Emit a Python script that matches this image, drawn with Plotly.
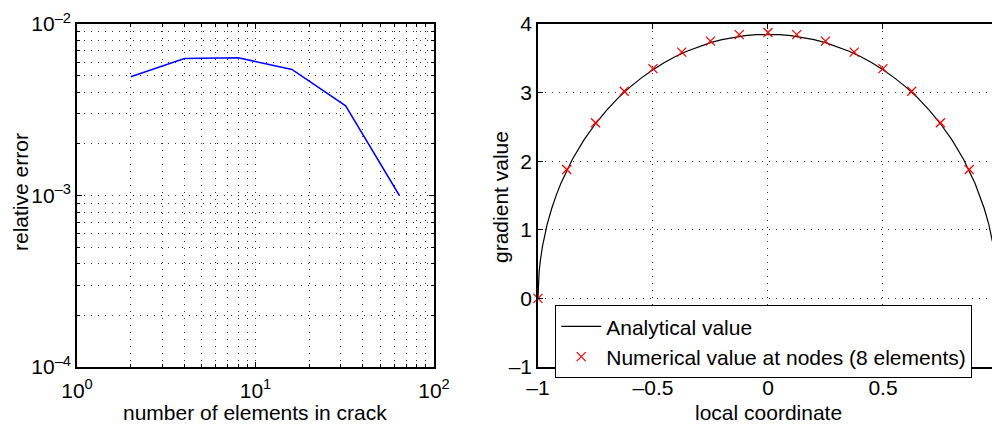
import plotly.graph_objects as go

# Convergence study: relative error vs. number of crack elements
n_elements = [2, 4, 8, 16, 32, 64]
rel_error = [4.92e-3, 6.30e-3, 6.36e-3, 5.43e-3, 3.33e-3, 1.0e-3]

# Gradient along the crack: analytical curve samples
curve_x = [-1.0, -0.999, -0.995, -0.99, -0.98, -0.96, -0.94, -0.92, -0.9, -0.85,
           -0.8, -0.75, -0.7, -0.65, -0.6, -0.55, -0.5, -0.45, -0.4, -0.35, -0.3,
           -0.25, -0.2, -0.15, -0.1, -0.05, 0.0, 0.05, 0.1, 0.15, 0.2, 0.25, 0.3,
           0.35, 0.4, 0.45, 0.5, 0.55, 0.6, 0.65, 0.7, 0.75, 0.8, 0.85, 0.9, 0.92,
           0.94, 0.96, 0.98, 0.99, 0.995, 0.999, 1.0]
curve_y = [0.0, 0.172, 0.385, 0.543, 0.766, 1.078, 1.314, 1.509, 1.678, 2.028,
           2.310, 2.546, 2.749, 2.926, 3.080, 3.215, 3.334, 3.438, 3.529, 3.607,
           3.673, 3.728, 3.772, 3.806, 3.831, 3.845, 3.850, 3.845, 3.831, 3.806,
           3.772, 3.728, 3.673, 3.607, 3.529, 3.438, 3.334, 3.215, 3.080, 2.926,
           2.749, 2.546, 2.310, 2.028, 1.678, 1.509, 1.314, 1.078, 0.766, 0.543,
           0.385, 0.172, 0.0]

# Numerical gradient at the nodes (8 quadratic elements)
node_x = [-1.0, -0.875, -0.75, -0.625, -0.5, -0.375, -0.25, -0.125, 0.0,
          0.125, 0.25, 0.375, 0.5, 0.625, 0.75, 0.875, 1.0]
node_y = [0.0, 1.88, 2.56, 3.02, 3.35, 3.59, 3.75, 3.845, 3.875,
          3.845, 3.75, 3.59, 3.35, 3.02, 2.56, 1.88, 0.0]

FONT = "Liberation Sans, Arial, Helvetica, sans-serif"
FS = 21
GRID = "rgba(0,0,0,0.8)"
DASH = "1px,6px"

fig = go.Figure()

fig.add_trace(go.Scatter(
    x=n_elements, y=rel_error, mode="lines",
    line=dict(color="#0000ff", width=1.5),
    xaxis="x", yaxis="y", showlegend=False,
))

fig.add_trace(go.Scatter(
    x=curve_x, y=curve_y, mode="lines", name="Analytical value",
    line=dict(color="black", width=1.2),
    xaxis="x2", yaxis="y2",
))
fig.add_trace(go.Scatter(
    x=node_x, y=node_y, mode="markers",
    name="Numerical value at nodes (8 elements)",
    marker=dict(symbol="x-thin", size=9, line=dict(color="#ff0000", width=1.3)),
    cliponaxis=False, xaxis="x2", yaxis="y2",
))

minor_x = [m * 10 ** e for e in range(0, 2) for m in range(2, 10)]
minor_y = [m * 10.0 ** e for e in range(-4, -2) for m in range(2, 10)]

axis_common = dict(
    showline=True, linecolor="black", linewidth=1.5,
    ticks="inside", ticklen=5, tickcolor="black",
    showgrid=True, gridcolor=GRID, gridwidth=1, griddash=DASH,
    zeroline=False, automargin=False,
    tickfont=dict(family=FONT, size=FS, color="black"),
)

def sup(exp):
    return "10<sup>" + exp + "</sup>"

fig.update_layout(
    width=992, height=425,
    margin=dict(l=0, r=0, t=0, b=0),
    paper_bgcolor="white", plot_bgcolor="white",
    font=dict(family=FONT, size=FS, color="black"),
    xaxis=dict(
        axis_common, type="log", range=[0, 2], domain=[0.0776, 0.4375],
        mirror="ticks", anchor="y", ticklabelstandoff=4,
        tickvals=[1, 10, 100], ticktext=[sup("0"), sup("1"), sup("2")],
        minor=dict(tickvals=minor_x, showgrid=True, gridcolor=GRID,
                   griddash=DASH, gridwidth=1, ticks="inside", ticklen=3,
                   tickcolor="black"),
    ),
    yaxis=dict(
        axis_common, type="log", range=[-4, -2], domain=[0.1365, 0.9435],
        mirror="ticks", anchor="x",
        tickvals=[1e-4, 1e-3, 1e-2], ticktext=[sup("–4"), sup("–3"), sup("–2")],
        minor=dict(tickvals=minor_y, showgrid=True, gridcolor=GRID,
                   griddash=DASH, gridwidth=1, ticks="inside", ticklen=3,
                   tickcolor="black"),
    ),
    xaxis2=dict(
        axis_common, range=[-1, 0.974], domain=[0.5423, 1.0],
        mirror="ticks", anchor="y2", ticklabelstandoff=1,
        tickvals=[-1, -0.5, 0, 0.5], ticktext=["–1", "–0.5", "0", "0.5"],
    ),
    yaxis2=dict(
        axis_common, range=[-1, 4], domain=[0.1365, 0.9435],
        mirror=False, anchor="x2",
        tickvals=[-1, 0, 1, 2, 3, 4], ticktext=["–1", "0", "1", "2", "3", "4"],
    ),
    legend=dict(
        x=0.5595, y=0.2824, xanchor="left", yanchor="top",
        bgcolor="white", bordercolor="black", borderwidth=1.2,
        font=dict(family=FONT, size=FS, color="black"),
        tracegroupgap=0, itemwidth=40,
    ),
    annotations=[
        dict(text="number of elements in crack", xref="paper", yref="paper",
             x=0.2573, y=1 - 412 / 425, showarrow=False, xanchor="center",
             yanchor="middle", font=dict(family=FONT, size=FS)),
        dict(text="relative error", xref="paper", yref="paper",
             x=20 / 992, y=1 - 192 / 425, showarrow=False, textangle=-90,
             xanchor="center", yanchor="middle", font=dict(family=FONT, size=FS)),
        dict(text="local coordinate", xref="paper", yref="paper",
             x=768 / 992, y=1 - 412 / 425, showarrow=False, xanchor="center",
             yanchor="middle", font=dict(family=FONT, size=FS)),
        dict(text="gradient value", xref="paper", yref="paper",
             x=500 / 992, y=1 - 197 / 425, showarrow=False, textangle=-90,
             xanchor="center", yanchor="middle", font=dict(family=FONT, size=FS)),
    ],
)

fig.write_html("out.html")
